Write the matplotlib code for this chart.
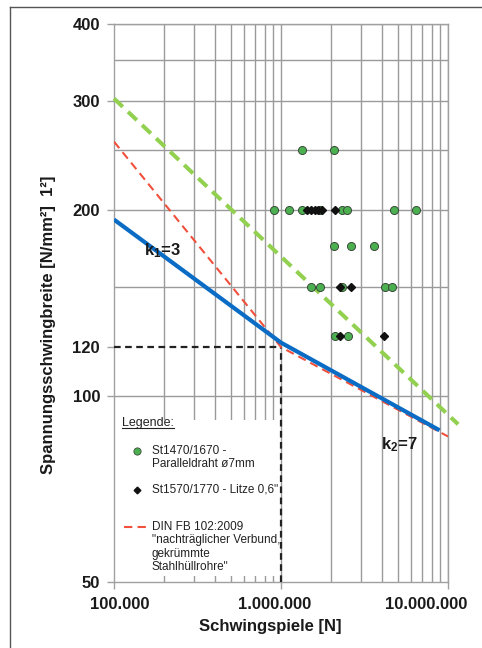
import matplotlib
matplotlib.use("Agg")
import matplotlib.pyplot as plt
from matplotlib.lines import Line2D
from matplotlib.patches import Rectangle
from matplotlib.ticker import FixedLocator, NullLocator
from matplotlib.transforms import ScaledTranslation

plt.rcParams['font.family'] = ['Liberation Sans', 'DejaVu Sans']
plt.rcParams['mathtext.fontset'] = 'custom'
plt.rcParams['mathtext.rm'] = 'Liberation Sans'
plt.rcParams['mathtext.bf'] = 'Liberation Sans:bold'

# --- data ---
# test results, St1470/1670 parallel wires (green circles)
green_n = [1.33e6, 2.08e6,
           9.1e5, 1.12e6, 1.33e6, 1.71e6, 2.31e6, 2.5e6, 4.77e6, 6.4e6,
           2.08e6, 2.62e6, 3.62e6,
           1.52e6, 1.72e6, 2.33e6, 4.2e6, 4.6e6,
           2.1e6, 2.53e6]
green_s = [250, 250,
           200, 200, 200, 200, 200, 200, 200, 200,
           175, 175, 175,
           150, 150, 150, 150, 150,
           125, 125]

# test results, St1570/1770 strands (black diamonds)
black_n = [1.43e6, 1.51e6, 1.59e6, 1.66e6, 1.75e6, 2.1e6,
           2.26e6, 2.61e6,
           2.27e6, 4.16e6]
black_s = [200, 200, 200, 200, 200, 200,
           150, 150,
           125, 125]

# S-N curves
blue_n = [1e5, 1e6, 8.9e6]
blue_s = [193, 122, 88]
red_n = [1e5, 1e6, 1e7]
red_s = [258, 120, 86]
green_line_n = [1e5, 1.15e7]
green_line_s = [303, 90]

# reference point N* / delta sigma
ref_n = 1e6
ref_s = 120

y_ticks = [50, 100, 120, 200, 300, 400]
y_grid = [100, 150, 200, 250, 300, 350, 400]
x_ticks = [1e5, 1e6, 1e7]
x_ticklabels = ['100.000', '1.000.000', '10.000.000']
x_grid = [m * 10 ** e for e in (5, 6) for m in range(2, 10)] + [1e6, 1e7]

W, H = 482, 648
fig = plt.figure(figsize=(W / 100, H / 100), dpi=100)
ax = fig.add_axes([114 / W, 1 - 582 / H, 334 / W, 558 / H])

ax.set_xscale('log')
ax.set_yscale('log')
ax.set_xlim(1e5, 1e7)
ax.set_ylim(50, 400)

# grid drawn by hand, only where the original has lines
ax.hlines(y_grid, 1e5, 1e7, color='#9a9a9a', lw=1, zorder=1)
ax.vlines(x_grid, 50, 400, color='#9a9a9a', lw=1, zorder=1)

for side in ('left', 'bottom', 'right', 'top'):
    ax.spines[side].set_color('#a0a0a0')
    ax.spines[side].set_linewidth(1)

ax.xaxis.set_major_locator(FixedLocator(x_ticks))
ax.xaxis.set_minor_locator(NullLocator())
ax.yaxis.set_major_locator(FixedLocator(y_ticks))
ax.yaxis.set_minor_locator(NullLocator())
ax.set_xticklabels(x_ticklabels, fontsize=12, fontweight='bold')
ax.set_yticklabels([str(v) for v in y_ticks], fontsize=12, fontweight='bold')
ax.tick_params(axis='both', colors='#a0a0a0', length=5, width=1, labelcolor='#1a1a1a')
ax.tick_params(axis='x', pad=6)
ax.tick_params(axis='y', pad=5)

# the x labels in the original are not centred on their ticks
for label, dx in zip(ax.get_xticklabels(), [6, -6, -22]):
    label.set_transform(label.get_transform() + ScaledTranslation(dx / 100, 0, fig.dpi_scale_trans))

# white legend area covering the grid in the lower left
ax.add_patch(Rectangle((0.004, 0.011), 0.49, 0.279, transform=ax.transAxes,
                       facecolor='white', edgecolor='none', zorder=2))

# dashed reference lines at N* = 1.000.000
ax.plot([1e5, ref_n], [ref_s, ref_s], color='#222222', lw=1.6, ls=(0, (3, 2)), zorder=3)
ax.plot([ref_n, ref_n], [50, ref_s], color='#222222', lw=1.6, ls=(0, (3, 2)), zorder=3)

# S-N curves
ax.plot(green_line_n, green_line_s, color='#92d050', lw=2.9, ls=(0, (3, 1.8)),
        zorder=4, clip_on=False)
ax.plot(red_n, red_s, color='#f0503c', lw=1.5, ls=(0, (4, 2.5)), zorder=4)
ax.plot(blue_n, blue_s, color='#0a6cc4', lw=3, zorder=5, solid_capstyle='butt')

# test results
ax.plot(green_n, green_s, ls='none', marker='o', ms=5.8, mfc='#4caf50',
        mec='#3a4a3a', mew=0.7, zorder=6)
ax.plot(black_n, black_s, ls='none', marker='D', ms=3.6, mfc='#111111',
        mec='#111111', zorder=7)

# slope labels
ax.text(1.94e5, 172, r'k$\mathbf{_1}$=3', fontsize=12, fontweight='bold',
        ha='center', va='center', color='#1a1a1a', zorder=8)
ax.text(5.1e6, 83.5, r'k$\mathbf{_2}$=7', fontsize=12, fontweight='bold',
        ha='center', va='center', color='#1a1a1a', zorder=8)

# legend, laid out by hand like the original
def ax_px(px, py):
    """Pixel position of the picture to axes fraction."""
    return (px - 114) / 334, (582 - py) / 558

leg_font = 8.5
x0, y0 = ax_px(122, 423)
leg_title = ax.text(x0, y0, 'Legende:', fontsize=9, ha='left', va='center',
                    color='#222222', zorder=8, transform=ax.transAxes)

mx, my = ax_px(137, 451)
ax.plot([mx], [my], transform=ax.transAxes, ls='none', marker='o', ms=5.2,
        mfc='#4caf50', mec='#3a4a3a', mew=0.6, zorder=8, clip_on=False)
tx, ty = ax_px(152, 451)
ax.text(tx, ty, 'St1470/1670 -', fontsize=leg_font, va='center', color='#222222',
        zorder=8, transform=ax.transAxes)
tx, ty = ax_px(152, 464)
ax.text(tx, ty, 'Paralleldraht ø7mm', fontsize=leg_font, va='center', color='#222222',
        zorder=8, transform=ax.transAxes)

mx, my = ax_px(137, 490)
ax.plot([mx], [my], transform=ax.transAxes, ls='none', marker='D', ms=3.4,
        mfc='#111111', mec='#111111', zorder=8, clip_on=False)
tx, ty = ax_px(152, 490)
ax.text(tx, ty, 'St1570/1770 - Litze 0,6"', fontsize=leg_font, va='center',
        color='#222222', zorder=8, transform=ax.transAxes)

lx0, ly = ax_px(124, 527)
lx1, _ = ax_px(147, 527)
ax.plot([lx0, lx1], [ly, ly], transform=ax.transAxes, color='#f0503c', lw=1.5,
        ls=(0, (4, 2.5)), zorder=8)
din_lines = ['DIN FB 102:2009', '"nachträglicher Verbund,', 'gekrümmte', 'Stahlhüllrohre"']
for i, line in enumerate(din_lines):
    tx, ty = ax_px(152, 527 + 13.5 * i)
    ax.text(tx, ty, line, fontsize=leg_font, va='center', color='#222222',
            zorder=8, transform=ax.transAxes)

# axis titles
fig.text(270 / W, 1 - 626 / H, 'Schwingspiele [N]', fontsize=12, fontweight='bold',
         ha='center', va='center', color='#1a1a1a')
fig.text(49 / W, 1 - 325 / H, 'Spannungsschwingbreite [N/mm²]  1²]', fontsize=12,
         fontweight='bold', rotation=90, ha='center', va='center', color='#1a1a1a')

# outer frame of the figure: only top and left edges are inside the picture
fig.lines.append(Line2D([10 / W, 1], [1 - 7 / H, 1 - 7 / H], transform=fig.transFigure,
                        color='#555555', lw=1))
fig.lines.append(Line2D([10 / W, 10 / W], [0, 1 - 7 / H], transform=fig.transFigure,
                        color='#555555', lw=1))

# underline for the legend title
fig.canvas.draw()
bb = leg_title.get_window_extent().transformed(ax.transAxes.inverted())
ax.plot([bb.x0, bb.x1], [bb.y0 + 0.002, bb.y0 + 0.002], transform=ax.transAxes,
        color='#222222', lw=0.8, zorder=8)

fig.savefig('out.png', dpi=100)
